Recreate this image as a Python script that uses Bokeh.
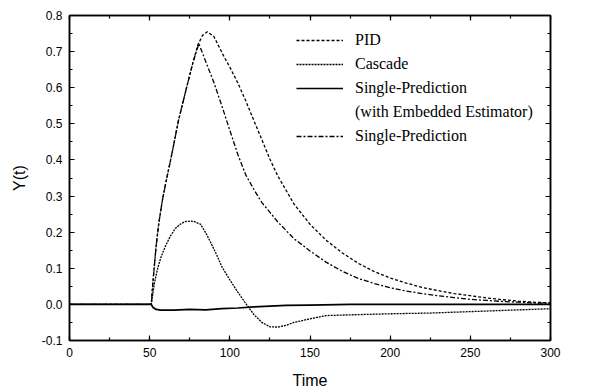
from bokeh.plotting import figure
from bokeh.models import (Range1d, LinearAxis, SingleIntervalTicker, NumeralTickFormatter,
                          Legend, LegendItem, CustomJSTickFormatter)
from bokeh.embed import file_html
from bokeh.resources import INLINE

# ---- data ----
pid_t = [0, 50, 51, 52, 53, 54, 55.7, 58, 60, 64, 68, 73, 77, 80, 83, 86, 90, 96.5, 100, 105, 110,
         115, 120, 125, 130, 140, 150, 160, 170, 180, 190, 200, 210, 220, 230, 240, 250, 260, 270,
         280, 290, 300]
pid_y = [0, 0, 0, 0.06, 0.11, 0.16, 0.225, 0.29, 0.335, 0.42, 0.51, 0.60, 0.67, 0.718, 0.745, 0.755,
         0.742, 0.685, 0.657, 0.613, 0.563, 0.509, 0.456, 0.402, 0.355, 0.278, 0.222, 0.178, 0.143,
         0.114, 0.091, 0.073, 0.059, 0.047, 0.038, 0.030, 0.024, 0.018, 0.013, 0.009, 0.006, 0.004]

cas_t = [0, 50, 51, 52, 53, 55, 57, 60, 63, 66, 69, 72, 75.5, 78, 81.7, 85, 88, 92, 95.2, 100, 105,
         110, 115, 120, 125, 130, 135, 140, 150, 160, 175, 200, 225, 250, 275, 300]
cas_y = [0, 0, 0, 0.03, 0.06, 0.10, 0.13, 0.163, 0.19, 0.21, 0.222, 0.229, 0.231, 0.229, 0.222, 0.198,
         0.172, 0.135, 0.103, 0.068, 0.034, 0.002, -0.028, -0.05, -0.062, -0.063, -0.058, -0.05,
         -0.04, -0.031, -0.029, -0.026, -0.024, -0.02, -0.016, -0.012]

spe_t = [0, 50, 51, 52, 54, 57, 65, 75, 85, 95, 105, 115, 125, 135, 150, 175, 200, 300]
spe_y = [0, 0, 0, -0.008, -0.014, -0.016, -0.016, -0.014, -0.015, -0.012, -0.01, -0.007, -0.005,
         -0.003, -0.002, 0, 0, 0]

sp_t = [0, 50, 51, 52, 53, 54, 55.7, 58, 60, 64, 68, 73, 77, 80.7, 85, 90, 95, 100, 105, 110, 115,
        120, 125, 130, 140, 150, 160, 170, 180, 190, 200, 210, 220, 230, 240, 250, 260, 270, 280,
        290, 300]
sp_y = [0, 0, 0, 0.06, 0.11, 0.16, 0.225, 0.29, 0.335, 0.42, 0.51, 0.60, 0.67, 0.722, 0.672, 0.615,
        0.55, 0.482, 0.415, 0.358, 0.318, 0.282, 0.255, 0.228, 0.182, 0.148, 0.117, 0.092, 0.072,
        0.058, 0.046, 0.037, 0.030, 0.024, 0.019, 0.014, 0.011, 0.008, 0.006, 0.004, 0.003]

p = figure(width=591, height=391, output_backend="svg", toolbar_location=None,
           x_range=Range1d(0, 300), y_range=Range1d(-0.1, 0.8),
           min_border_left=69, min_border_right=41, min_border_top=15, min_border_bottom=49,
           x_axis_label="Time", y_axis_label="Y(t)")
p.grid.visible = False
p.outline_line_color = "black"
p.outline_line_width = 1.5
p.background_fill_color = "white"
p.border_fill_color = "white"

def style_axis(ax, labels=True):
    ax.axis_line_color = "black"
    ax.axis_line_width = 1.5
    ax.major_tick_in = 5
    ax.major_tick_out = 0
    ax.minor_tick_in = 3
    ax.minor_tick_out = 0
    ax.major_tick_line_width = 1.2
    ax.minor_tick_line_width = 1.2
    if labels:
        ax.major_label_text_font = "Liberation Sans"
        ax.major_label_text_font_size = "12px"
        ax.major_label_text_color = "black"
        ax.axis_label_text_font = "Liberation Sans"
        ax.axis_label_text_font_size = "16px"
        ax.axis_label_text_font_style = "normal"
        ax.axis_label_text_color = "black"
    else:
        ax.formatter = CustomJSTickFormatter(code="return '';")
        ax.major_label_standoff = 0

p.xaxis.ticker = SingleIntervalTicker(interval=50, num_minor_ticks=2)
p.yaxis.ticker = SingleIntervalTicker(interval=0.1, num_minor_ticks=2)
p.yaxis.formatter = NumeralTickFormatter(format="0.0")
style_axis(p.xaxis[0])
style_axis(p.yaxis[0])
p.xaxis.major_label_standoff = 7
p.xaxis.axis_label_standoff = 12
p.yaxis.major_label_standoff = 7
p.yaxis.axis_label_standoff = 11

rax = LinearAxis(ticker=SingleIntervalTicker(interval=0.1, num_minor_ticks=2))
style_axis(rax, labels=False)
p.add_layout(rax, "right")
tax = LinearAxis(ticker=SingleIntervalTicker(interval=50, num_minor_ticks=2))
style_axis(tax, labels=False)
p.add_layout(tax, "above")

r_pid = p.line(pid_t, pid_y, line_color="black", line_width=1.3, line_dash="3 2")
r_cas = p.line(cas_t, cas_y, line_color="black", line_width=1.3, line_dash="2 1")
r_spe = p.line(spe_t, spe_y, line_color="black", line_width=1.7)
r_sp = p.line(sp_t, sp_y, line_color="black", line_width=1.3, line_dash="5 2 2 2")
r_dummy = p.line([], [], line_alpha=0)

legend = Legend(items=[
    LegendItem(label="PID", renderers=[r_pid]),
    LegendItem(label="Cascade", renderers=[r_cas]),
    LegendItem(label="Single-Prediction", renderers=[r_spe]),
    LegendItem(label="(with Embedded Estimator)", renderers=[r_dummy]),
    LegendItem(label="Single-Prediction", renderers=[r_sp]),
], location=(227, 192))
legend.label_text_font = "Liberation Serif"
legend.label_text_font_size = "16px"
legend.label_text_color = "black"
legend.glyph_width = 47
legend.glyph_height = 24
legend.label_height = 24
legend.label_standoff = 12
legend.spacing = 0
legend.padding = 0
legend.margin = 0
legend.border_line_alpha = 0
legend.background_fill_alpha = 0
p.add_layout(legend, "center")

open("out.html", "w").write(file_html(p, INLINE))
